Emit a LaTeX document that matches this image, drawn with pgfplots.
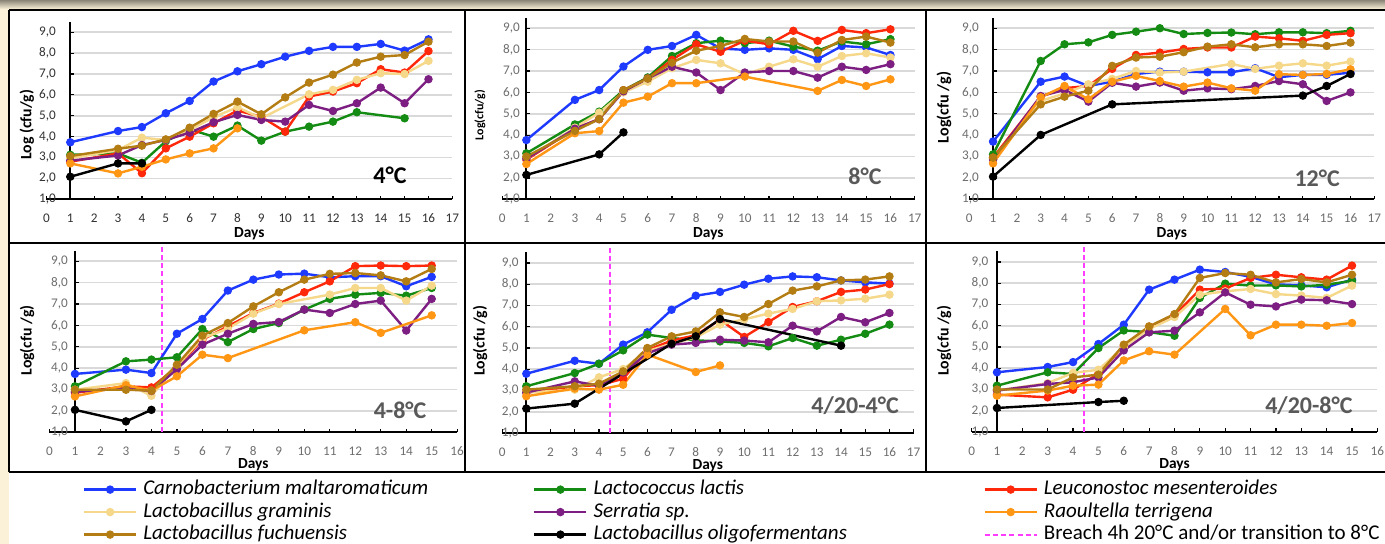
\documentclass[border=0pt]{standalone}
\usepackage{pgfplots}
\pgfplotsset{compat=1.18}
\usepackage{fontspec}
\setmainfont{Carlito}

\definecolor{cream}{RGB}{251,241,217}
\definecolor{topdark}{RGB}{138,133,118}
\definecolor{gridc}{RGB}{217,217,217}
\definecolor{tickc}{RGB}{110,110,110}
\definecolor{labc}{RGB}{89,89,89}
\definecolor{carnoc}{RGB}{31,58,255}
\definecolor{lactoc}{RGB}{20,140,20}
\definecolor{leucoc}{RGB}{255,40,10}
\definecolor{gramc}{RGB}{246,216,138}
\definecolor{serrc}{RGB}{125,30,130}
\definecolor{raoulc}{RGB}{255,150,20}
\definecolor{fuchc}{RGB}{180,125,20}
\definecolor{breachc}{RGB}{255,60,255}

\newcommand{\tickfont}{\fontsize{6.6}{7.5}\selectfont}
\newcommand{\tempfont}{\bfseries\fontsize{12}{13}\selectfont}

\pgfplotsset{
  panel/.style={
    clip=false, xmin=0, ymin=1, ymax=10,
    axis x line=bottom, axis y line=left,
    x axis line style={-, black, line width=0.8pt},
    y axis line style={draw=none},
    xtick align=inside, ytick align=inside,
    xtick style={black, line width=0.6pt},
    ytick style={draw=none},
    major tick length=1.8pt,
    ytick={1,...,9},
    yticklabels={{1,0},{2,0},{3,0},{4,0},{5,0},{6,0},{7,0},{8,0},{9,0}},
    /pgf/number format/assume math mode=true,
    tick label style={font=\tickfont, text=tickc},
    xticklabel style={yshift=-3.8pt},
    xlabel={Days},
    every axis plot/.append style={line width=1.2pt, mark=*, mark size=1.85pt,
      mark options={solid, line width=0.5pt}},
  },
  xlab/.style={every axis x label/.style={at={(axis description cs:0.5,#1)},
      anchor=center, font=\bfseries\fontsize{7.7}{9}\selectfont}},
  ylab/.style n args={3}{every axis y label/.style={at={(axis description cs:#1,#2)},
      rotate=90, anchor=center, font=\bfseries\fontsize{#3}{9}\selectfont}},
  carno/.style={color=carnoc},
  lacto/.style={color=lactoc},
  leuco/.style={color=leucoc},
  gram/.style={color=gramc},
  serr/.style={color=serrc},
  raoul/.style={color=raoulc},
  fuch/.style={color=fuchc},
  olig/.style={color=black},
  breach/.style={color=breachc, mark=none, line width=1pt, dash pattern=on 2.5pt off 1.6pt},
}

% gridlines, y axis line and its ticks at day 1
\newcommand{\paneldeco}[1]{%
  \pgfplotsinvokeforeach{2,...,9}{\draw[gridc, line width=0.8pt] (axis cs:1,##1) -- (axis cs:#1,##1);}
  \draw[black, line width=1pt] (axis cs:1,1) -- (axis cs:1,9.5);
  \pgfplotsinvokeforeach{1,...,9}{\draw[black, line width=0.6pt] (axis cs:1,##1) -- ++(1.8pt,0pt);}
}

\begin{document}
\begin{tikzpicture}[x=0.5pt,y=-0.5pt]
\useasboundingbox (0,0) rectangle (1385,544);
\fill[cream] (0,0) rectangle (1385,544);
\fill[white] (9,9) rectangle (1385,544);
\shade[top color=topdark, bottom color=cream] (0,0) rectangle (1385,9);

% ---------- 4 C ----------
\begin{axis}[panel, at={(23.2pt,-99.65pt)}, anchor=south west,
  x=11.94pt, y=10.44pt, xmax=17, xtick={0,...,17},
  xlab=-0.185, ylab={-0.048}{0.396}{7.9}, ylabel={Log (cfu/g)},
  yticklabel style={inner sep=0pt, xshift=4.95pt},
  tick label style={text=black!80}]
\paneldeco{17}
\addplot[carno] coordinates {(1,3.73)(3,4.27)(4,4.46)(5,5.12)(6,5.71)(7,6.64)(8,7.13)(9,7.47)(10,7.83)(11,8.11)(12,8.30)(13,8.30)(14,8.44)(15,8.12)(16,8.66)};
\addplot[lacto] coordinates {(1,3.13)(3,3.2)(4,2.75)(5,3.78)(6,4.35)(7,4.0)(8,4.53)(9,3.81)(10,4.24)(11,4.48)(12,4.72)(13,5.17)(15,4.88)};
\addplot[leuco] coordinates {(1,2.8)(3,3.2)(4,2.25)(5,3.44)(6,4.0)(7,4.64)(8,5.25)(9,4.95)(10,4.24)(11,5.92)(12,6.16)(13,6.56)(14,7.23)(15,7.07)(16,8.1)};
\addplot[gram] coordinates {(1,2.96)(3,3.36)(4,3.95)(5,3.84)(6,4.32)(7,4.93)(8,5.41)(9,4.88)(11,6.03)(12,6.24)(13,6.72)(14,7.04)(15,7.0)(16,7.63)};
\addplot[serr] coordinates {(1,2.85)(3,3.1)(4,3.6)(5,3.84)(6,4.19)(7,4.69)(8,5.04)(9,4.8)(10,4.72)(11,5.52)(12,5.23)(13,5.6)(14,6.35)(15,5.6)(16,6.75)};
\addplot[raoul] coordinates {(1,2.72)(3,2.24)(4,2.56)(5,2.91)(6,3.2)(7,3.44)(8,4.4)};
\addplot[fuch] coordinates {(1,3.07)(3,3.42)(4,3.57)(5,3.87)(6,4.43)(7,5.09)(8,5.68)(9,5.07)(10,5.88)(11,6.59)(12,6.97)(13,7.55)(14,7.83)(15,7.91)(16,8.55)};
\addplot[olig] coordinates {(1,2.08)(3,2.72)(4,2.72)};
\node[font=\tempfont, text=black] at (axis cs:14.39,2.16) {4°C};
\end{axis}

% ---------- 8 C ----------
\begin{axis}[panel, at={(251.05pt,-99.65pt)}, anchor=south west,
  x=12.135pt, y=10.69pt, xmax=17, xtick={0,...,17},
  xlab=-0.180, ylab={-0.0536}{0.438}{6}, ylabel={Log(cfu/g)},
  yticklabel style={inner sep=0pt, xshift=9.1pt}]
\paneldeco{17}
\addplot[carno] coordinates {(1,3.77)(3,5.65)(4,6.11)(5,7.21)(6,7.99)(7,8.17)(8,8.69)(9,8.05)(10,7.99)(11,8.06)(12,7.99)(13,7.55)(14,8.17)(15,8.1)(16,7.75)};
\addplot[lacto] coordinates {(1,3.15)(3,4.5)(4,5.1)(5,6.1)(6,6.7)(7,7.7)(8,8.3)(9,8.42)(10,8.3)(11,8.42)(12,8.14)(13,7.95)(14,8.38)(15,8.25)(16,8.49)};
\addplot[leuco] coordinates {(1,2.85)(3,4.3)(4,4.75)(5,6.1)(6,6.65)(7,7.52)(8,8.25)(9,7.9)(10,8.42)(11,8.25)(12,8.88)(13,8.41)(14,8.92)(15,8.77)(16,8.95)};
\addplot[gram] coordinates {(1,2.9)(3,4.35)(4,5.05)(5,6.0)(6,6.5)(7,7.13)(8,7.52)(9,7.36)(10,6.85)(11,7.2)(12,7.55)(13,7.2)(14,7.7)(15,7.83)(16,7.63)};
\addplot[serr] coordinates {(1,2.9)(3,4.3)(4,4.75)(5,6.05)(6,6.65)(7,7.2)(8,6.93)(9,6.11)(10,6.93)(11,7.0)(12,7.0)(13,6.69)(14,7.2)(15,7.05)(16,7.32)};
\addplot[raoul] coordinates {(1,2.65)(3,4.09)(4,4.19)(5,5.52)(6,5.8)(7,6.43)(8,6.43)(10,6.74)(13,6.07)(14,6.58)(15,6.3)(16,6.61)};
\addplot[fuch] coordinates {(1,3.0)(3,4.2)(4,4.75)(5,6.1)(6,6.65)(7,7.39)(8,7.95)(9,8.17)(10,8.5)(11,8.38)(12,8.38)(13,7.86)(14,8.45)(15,8.61)(16,8.33)};
\addplot[olig] coordinates {(1,2.14)(4,3.1)(5,4.13)};
\node[font=\tempfont, text=labc] at (axis cs:14.95,2.09) {8°C};
\end{axis}

% ---------- 12 C ----------
\begin{axis}[panel, at={(484.6pt,-99.65pt)}, anchor=south west,
  x=11.915pt, y=10.69pt, xmax=17, xtick={0,...,17},
  xlab=-0.180, ylab={-0.0622}{0.477}{8.1}, ylabel={Log(cfu /g)},
  yticklabel style={inner sep=0pt, xshift=5.05pt}]
\paneldeco{17}
\addplot[carno] coordinates {(1,3.7)(3,6.5)(4,6.74)(5,6.3)(6,6.5)(7,6.86)(8,6.97)(9,6.97)(10,6.94)(11,6.94)(12,7.13)(13,6.71)(14,6.82)(15,6.82)(16,6.92)};
\addplot[lacto] coordinates {(1,3.1)(3,7.47)(4,8.25)(5,8.34)(6,8.69)(7,8.84)(8,9.0)(9,8.73)(10,8.78)(11,8.8)(12,8.72)(13,8.81)(14,8.81)(15,8.77)(16,8.88)};
\addplot[leuco] coordinates {(1,2.95)(3,5.8)(4,6.2)(5,6.3)(6,7.1)(7,7.75)(8,7.86)(9,8.03)(10,8.1)(11,8.1)(12,8.61)(13,8.53)(14,8.41)(15,8.69)(16,8.77)};
\addplot[gram] coordinates {(1,2.9)(3,5.6)(4,5.95)(5,6.38)(6,6.63)(7,7.0)(8,6.93)(9,6.97)(11,7.33)(12,7.1)(13,7.25)(14,7.36)(15,7.25)(16,7.44)};
\addplot[serr] coordinates {(1,2.85)(3,5.83)(4,6.11)(5,5.57)(6,6.45)(7,6.27)(8,6.46)(9,6.08)(10,6.19)(11,6.15)(12,6.3)(13,6.53)(14,6.38)(15,5.6)(16,6.0)};
\addplot[raoul] coordinates {(1,2.68)(3,5.77)(4,6.3)(5,5.68)(6,6.5)(7,6.77)(8,6.53)(9,6.27)(10,6.46)(11,6.19)(12,6.08)(13,6.85)(14,6.82)(15,6.86)(16,7.08)};
\addplot[fuch] coordinates {(1,2.95)(3,5.44)(4,5.8)(5,6.08)(6,7.24)(7,7.63)(8,7.67)(9,7.88)(10,8.14)(11,8.25)(12,8.11)(13,8.25)(14,8.25)(15,8.17)(16,8.33)};
\addplot[olig] coordinates {(1,2.06)(3,4.01)(6,5.44)(14,5.85)(15,6.3)(16,6.86)};
\node[font=\tempfont, text=labc] at (axis cs:14.6,2.0) {12°C};
\end{axis}

% ---------- 4-8 C ----------
\begin{axis}[panel, at={(24.75pt,-216.15pt)}, anchor=south west,
  x=12.74pt, y=10.69pt, xmax=16, xtick={0,...,16},
  xlab=-0.167, ylab={-0.0552}{0.477}{7.9}, ylabel={Log(cfu /g)},
  yticklabel style={inner sep=0pt, xshift=9.4pt}]
\paneldeco{16}
\addplot[breach] coordinates {(4.4,1)(4.4,9.85)};
\addplot[carno] coordinates {(1,3.73)(3,3.93)(4,3.77)(5,5.61)(6,6.3)(7,7.63)(8,8.14)(9,8.38)(10,8.42)(11,8.25)(12,8.3)(13,8.3)(14,7.83)(15,8.27)};
\addplot[lacto] coordinates {(1,3.15)(3,4.32)(4,4.4)(5,4.51)(6,5.83)(7,5.22)(8,5.83)(9,6.11)(10,6.74)(11,7.24)(12,7.44)(13,7.52)(14,7.39)(15,7.75)};
\addplot[leuco] coordinates {(1,2.85)(3,3.15)(4,3.1)(5,4.05)(6,5.33)(7,5.96)(8,6.58)(9,7.02)(10,7.55)(11,8.06)(12,8.77)(13,8.8)(14,8.77)(15,8.8)};
\addplot[gram] coordinates {(1,2.99)(3,3.3)(4,2.71)(5,4.1)(6,5.4)(7,5.85)(8,6.55)(9,7.0)(11,7.44)(12,7.75)(13,7.75)(14,7.16)(15,7.86)};
\addplot[serr] coordinates {(1,2.9)(3,3.05)(4,2.93)(5,3.95)(6,5.1)(7,5.61)(8,6.07)(9,6.16)(10,6.74)(11,6.58)(12,7.0)(13,7.16)(14,5.76)(15,7.24)};
\addplot[raoul] coordinates {(1,2.68)(3,3.2)(4,2.95)(5,3.62)(6,4.63)(7,4.47)(10,5.77)(12,6.15)(13,5.65)(15,6.47)};
\addplot[fuch] coordinates {(1,2.99)(3,2.99)(4,2.95)(5,4.16)(6,5.52)(7,6.11)(8,6.89)(9,7.55)(10,8.14)(11,8.41)(12,8.45)(13,8.34)(14,8.06)(15,8.64)};
\addplot[olig] coordinates {(1,2.05)(3,1.51)(4,2.05)};
\node[font=\tempfont, text=labc] at (axis cs:13.76,2.04) {4-8°C};
\end{axis}

% ---------- 4/20-4 C ----------
\begin{axis}[panel, at={(251.05pt,-216.5pt)}, anchor=south west,
  x=12.105pt, y=10.625pt, xmax=17, xtick={0,...,17},
  xlab=-0.172, ylab={-0.0537}{0.481}{7.9}, ylabel={Log(cfu /g)},
  yticklabel style={inner sep=0pt, xshift=8.45pt}]
\paneldeco{17}
\addplot[breach] coordinates {(4.44,1)(4.44,9.8)};
\addplot[carno] coordinates {(1,3.79)(3,4.4)(4,4.26)(5,5.16)(6,5.74)(7,6.8)(8,7.46)(9,7.64)(10,7.98)(11,8.26)(12,8.37)(13,8.33)(14,8.18)(15,8.09)(16,8.03)};
\addplot[lacto] coordinates {(1,3.2)(3,3.82)(4,4.26)(5,4.89)(6,5.63)(7,5.47)(8,5.36)(9,5.31)(10,5.24)(11,5.08)(12,5.47)(13,5.11)(14,5.39)(15,5.67)(16,6.1)};
\addplot[leuco] coordinates {(1,2.9)(3,3.2)(4,3.25)(5,3.55)(6,4.9)(7,5.35)(8,5.6)(9,6.33)(10,5.52)(11,6.22)(12,6.93)(13,7.2)(14,7.64)(15,7.75)(16,8.01)};
\addplot[gram] coordinates {(1,2.9)(3,3.04)(4,3.62)(5,4.01)(6,4.85)(7,5.2)(8,5.5)(9,6.1)(10,6.35)(11,6.62)(12,6.84)(13,7.2)(14,7.24)(15,7.32)(16,7.51)};
\addplot[serr] coordinates {(1,2.9)(3,3.43)(4,3.22)(5,3.85)(6,4.75)(7,5.16)(8,5.24)(9,5.39)(10,5.35)(11,5.27)(12,6.05)(13,5.78)(14,6.46)(15,6.21)(16,6.65)};
\addplot[raoul] coordinates {(1,2.73)(3,3.09)(4,3.04)(5,3.27)(6,4.69)(8,3.87)(9,4.18)};
\addplot[fuch] coordinates {(1,3.04)(3,3.2)(4,3.32)(5,3.9)(6,5.0)(7,5.55)(8,5.78)(9,6.68)(10,6.46)(11,7.07)(12,7.7)(13,7.9)(14,8.18)(15,8.22)(16,8.37)};
\addplot[olig] coordinates {(1,2.15)(3,2.38)(7,5.2)(8,5.55)(9,6.36)(14,5.11)};
\node[font=\tempfont, text=labc] at (axis cs:14.58,2.27) {4/20-4°C};
\end{axis}

% ---------- 4/20-8 C ----------
\begin{axis}[panel, at={(485.8pt,-216pt)}, anchor=south west,
  x=12.68pt, y=10.625pt, xmax=16, xtick={0,...,16},
  xlab=-0.170, ylab={-0.068}{0.476}{7.9}, ylabel={Log(cfu /g)},
  yticklabel style={inner sep=0pt, xshift=8.55pt}]
\paneldeco{16}
\addplot[breach] coordinates {(4.45,1)(4.45,9.85)};
\addplot[carno] coordinates {(1,3.81)(3,4.06)(4,4.29)(5,5.14)(6,6.05)(7,7.7)(8,8.17)(9,8.64)(10,8.53)(11,8.3)(12,7.95)(13,7.9)(14,7.81)(15,8.17)};
\addplot[lacto] coordinates {(1,3.18)(3,3.81)(4,3.73)(5,4.95)(6,5.78)(7,5.7)(8,5.53)(9,7.31)(10,7.98)(11,7.89)(12,7.9)(13,7.85)(14,7.93)(15,8.12)};
\addplot[leuco] coordinates {(1,2.76)(3,2.63)(4,2.99)(5,3.75)(6,5.05)(7,5.95)(8,6.5)(9,7.7)(10,7.75)(11,8.25)(12,8.4)(13,8.28)(14,8.17)(15,8.83)};
\addplot[gram] coordinates {(1,2.95)(3,3.3)(4,3.78)(5,3.93)(6,5.0)(7,5.85)(8,6.41)(9,7.46)(10,7.62)(11,7.73)(12,7.49)(13,7.42)(14,7.31)(15,7.89)};
\addplot[serr] coordinates {(1,2.95)(3,3.26)(4,3.34)(5,3.57)(6,4.84)(7,5.69)(8,5.77)(9,6.63)(10,7.57)(11,6.99)(12,6.91)(13,7.23)(14,7.2)(15,7.02)};
\addplot[raoul] coordinates {(1,2.71)(3,2.95)(4,3.18)(5,3.23)(6,4.37)(7,4.8)(8,4.64)(10,6.79)(11,5.55)(12,6.05)(13,6.05)(14,6.0)(15,6.13)};
\addplot[fuch] coordinates {(1,3.0)(3,3.0)(4,3.57)(5,3.7)(6,5.11)(7,5.97)(8,6.55)(9,8.25)(10,8.48)(11,8.4)(12,8.04)(13,8.2)(14,8.04)(15,8.4)};
\addplot[olig] coordinates {(1,2.13)(5,2.41)(6,2.47)};
\node[font=\tempfont, text=labc] at (axis cs:13.3,2.22) {4/20-8°C};
\end{axis}

% ---------- legend ----------
\begin{axis}[hide axis, scale only axis, width=692.5pt, height=272pt,
  at={(0pt,-272pt)}, anchor=south west, xmin=0, xmax=1, ymin=0, ymax=1,
  legend columns=3, legend cell align=left,
  legend image code/.code={\draw[mark repeat=2,mark phase=2] plot coordinates {(0pt,0pt)(13pt,0pt)(26pt,0pt)};},
  legend style={at={(0.0599,0.1184)}, anchor=north west, draw=none, fill=none,
    inner sep=0pt, outer sep=0pt, column sep=0pt, row sep=1.25pt,
    font=\fontsize{10.5}{12}\selectfont,
    nodes={inner sep=0pt, text height=7.6pt, text depth=2.4pt}}]
\addlegendimage{carno, line width=1.15pt, mark=*, mark size=1.85pt, mark options={solid, line width=0.5pt}}
\addlegendentry{\hspace{3pt}\makebox[195pt][l]{\itshape Carnobacterium maltaromaticum}}
\addlegendimage{lacto, line width=1.15pt, mark=*, mark size=1.85pt, mark options={solid, line width=0.5pt}}
\addlegendentry{\hspace{3pt}\makebox[195pt][l]{\itshape Lactococcus lactis}}
\addlegendimage{leuco, line width=1.15pt, mark=*, mark size=1.85pt, mark options={solid, line width=0.5pt}}
\addlegendentry{\hspace{3pt}\itshape Leuconostoc mesenteroides}
\addlegendimage{gram, line width=1.15pt, mark=*, mark size=1.85pt, mark options={solid, line width=0.5pt}}
\addlegendentry{\hspace{3pt}\makebox[195pt][l]{\itshape Lactobacillus graminis}}
\addlegendimage{serr, line width=1.15pt, mark=*, mark size=1.85pt, mark options={solid, line width=0.5pt}}
\addlegendentry{\hspace{3pt}\makebox[195pt][l]{\itshape Serratia sp.}}
\addlegendimage{raoul, line width=1.15pt, mark=*, mark size=1.85pt, mark options={solid, line width=0.5pt}}
\addlegendentry{\hspace{3pt}\itshape Raoultella terrigena}
\addlegendimage{fuch, line width=1.15pt, mark=*, mark size=1.85pt, mark options={solid, line width=0.5pt}}
\addlegendentry{\hspace{3pt}\makebox[195pt][l]{\itshape Lactobacillus fuchuensis}}
\addlegendimage{olig, line width=1.15pt, mark=*, mark size=1.85pt, mark options={solid, line width=0.5pt}}
\addlegendentry{\hspace{3pt}\makebox[195pt][l]{\itshape Lactobacillus oligofermentans}}
\addlegendimage{breach}
\addlegendentry{\hspace{3pt}Breach 4h 20°C and/or transition to 8°C}
\end{axis}

% panel frames
\draw[black, line width=0.65pt] (9,10) -- (1385,10);
\draw[black, line width=0.65pt] (9,243) -- (1385,243);
\draw[black, line width=0.65pt] (9,472) -- (1385,472);
\draw[black, line width=0.65pt] (9,10) -- (9,472);
\draw[black, line width=0.65pt] (465,10) -- (465,472);
\draw[black, line width=0.65pt] (926,10) -- (926,472);
\end{tikzpicture}
\end{document}
